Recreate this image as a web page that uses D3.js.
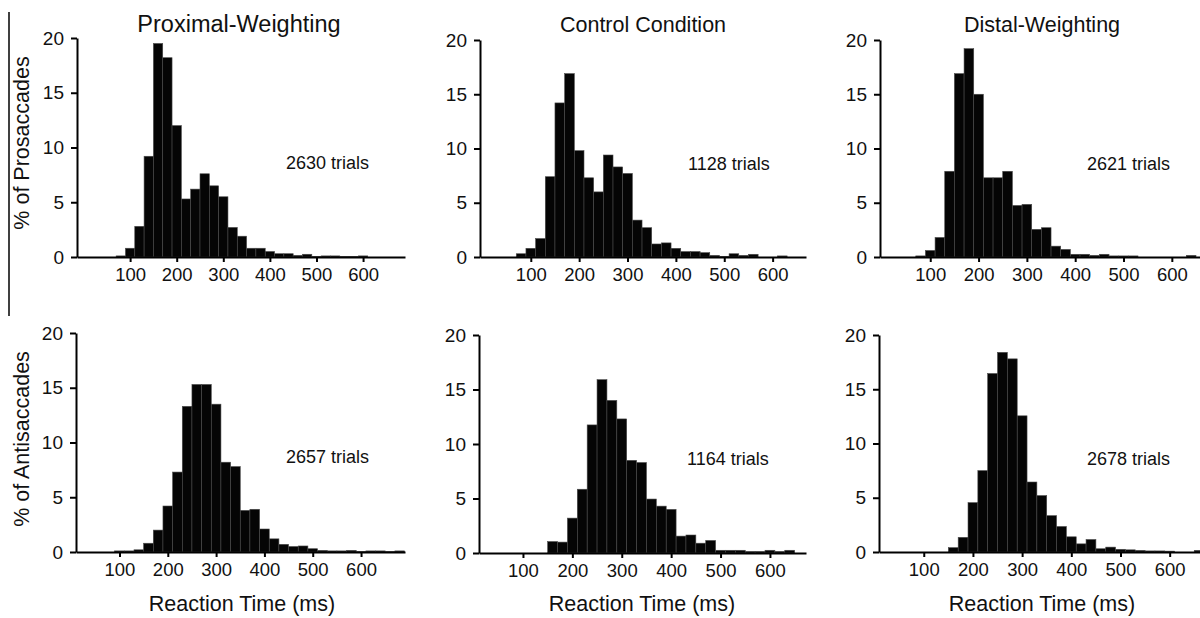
<!DOCTYPE html>
<html>
<head>
<meta charset="utf-8">
<script src="https://cdn.jsdelivr.net/npm/d3@7"></script>
<style>
	body { margin: 0; background: #fff; }
	text { font-family: "Liberation Sans", Arial, sans-serif; fill: #111; }
</style>
</head>
<body>
<svg id="chart"></svg>
<script>
// bin centres (ms), 20 ms wide bins
const binCenters = [60, 80, 100, 120, 140, 160, 180, 200, 220, 240, 260, 280, 300, 320, 340, 360,
	380, 400, 420, 440, 460, 480, 500, 520, 540, 560, 580, 600, 620, 640, 660, 680];

// % of saccades per bin
const proximalPro = [0, 0.1, 0.8, 2.8, 9.2, 19.5, 18.2, 12.0, 5.3, 6.2, 7.6, 6.5, 5.5, 2.7, 1.9, 0.8,
	0.8, 0.5, 0.3, 0.3, 0.15, 0.25, 0.05, 0.1, 0.1, 0.05, 0.05, 0.1, 0, 0, 0, 0];
const controlPro = [0, 0.3, 0.8, 1.7, 7.4, 14.2, 16.9, 9.8, 7.3, 6.0, 9.4, 8.3, 7.7, 3.4, 2.7, 1.2,
	1.3, 0.8, 0.5, 0.5, 0.4, 0.15, 0.05, 0.3, 0.15, 0.25, 0, 0, 0.1, 0, 0, 0];
const distalPro = [0, 0.1, 0.6, 1.8, 7.9, 16.9, 19.2, 15.0, 7.3, 7.3, 7.9, 4.75, 4.85, 2.55, 2.7, 1.0,
	0.7, 0.25, 0.25, 0.15, 0.25, 0.1, 0.1, 0.1, 0, 0, 0, 0, 0, 0.15, 0, 0];
const proximalAnti = [0, 0, 0.1, 0.1, 0.2, 0.8, 2.0, 4.2, 7.3, 13.3, 15.3, 15.3, 13.5, 8.2, 7.8, 3.8,
	3.9, 2.1, 1.2, 0.7, 0.5, 0.55, 0.3, 0.15, 0.1, 0.1, 0.15, 0.03, 0.1, 0.1, 0.03, 0.1];
const controlAnti = [0, 0, 0, 0, 0, 1.05, 1.0, 3.2, 5.85, 11.75, 15.9, 14.0, 12.3, 8.5, 8.3, 4.95,
	4.3, 4.0, 1.55, 1.65, 0.9, 1.15, 0.25, 0.25, 0.25, 0.15, 0.15, 0.25, 0.15, 0.25, 0, 0];
const distalAnti = [0, 0, 0, 0, 0, 0.4, 1.35, 4.55, 7.5, 16.45, 18.4, 17.8, 12.55, 6.45, 5.2, 3.35,
	2.35, 1.4, 0.75, 1.15, 0.3, 0.45, 0.25, 0.2, 0.15, 0.1, 0.1, 0.08, 0, 0, 0.15, 0];

const titles = ["Proximal-Weighting", "Control Condition", "Distal-Weighting"];
const trialCounts = ["2630 trials", "1128 trials", "2621 trials", "2657 trials", "1164 trials", "2678 trials"];
const rowLabels = ["% of Prosaccades", "% of Antisaccades"];
const xTicks = [100, 200, 300, 400, 500, 600];
const yTicks = [0, 5, 10, 15, 20];

const W = 1200, H = 618;
const svg = d3.select("#chart").attr("width", W).attr("height", H);

// panel placement (pixels) and the x window each panel shows
const panels = [
	{ values: proximalPro, dom: [-14, 690], left: 77, right: 405, top: 38, bottom: 257 },
	{ values: controlPro, dom: [-5, 669], left: 480, right: 806, top: 40, bottom: 257 },
	{ values: distalPro, dom: [-4, 679], left: 880, right: 1210, top: 40, bottom: 257 },
	{ values: proximalAnti, dom: [10, 691], left: 76, right: 405, top: 333, bottom: 552 },
	{ values: controlAnti, dom: [11, 673], left: 479, right: 806, top: 335, bottom: 553 },
	{ values: distalAnti, dom: [9, 682], left: 879, right: 1210, top: 335, bottom: 552 }
];
const trialPos = [[286, 169], [688, 170], [1087, 170], [286, 463], [687, 465], [1087, 465]];

panels.forEach((p, i) => {
	const g = svg.append("g");
	const x = d3.scaleLinear().domain(p.dom).range([p.left, p.right]);
	const y = d3.scaleLinear().domain([0, 20]).range([p.bottom, p.top]);

	const data = binCenters.map((c, k) => ({ c: c, v: p.values[k] })).filter(d => d.v > 0);

	// bars
	g.selectAll("rect.bar")
		.data(data)
		.enter()
		.append("rect")
		.attr("class", "bar")
		.attr("x", d => x(d.c - 10))
		.attr("y", d => y(d.v))
		.attr("width", d => x(d.c + 10) - x(d.c - 10))
		.attr("height", d => y(0) - y(d.v))
		.attr("fill", "#050505")
		.attr("stroke", "#4a4a4a")
		.attr("stroke-width", 0.6);

	// x axis
	const xa = g.append("g")
		.attr("transform", `translate(0,${p.bottom})`)
		.call(d3.axisBottom(x).tickValues(xTicks).tickSize(5).tickSizeOuter(0).tickPadding(6));
	xa.selectAll("text").style("font-size", "18.5px");

	// y axis
	const ya = g.append("g")
		.attr("transform", `translate(${p.left},0)`)
		.call(d3.axisLeft(y).tickValues(yTicks).tickSize(6).tickSizeOuter(0).tickPadding(7));
	ya.selectAll("text").style("font-size", "19px");

	[xa, ya].forEach(a => {
		a.select(".domain").attr("stroke", "#000").attr("stroke-width", 2);
		a.selectAll(".tick line").attr("stroke", "#000").attr("stroke-width", 2);
		a.selectAll("text").style("font-family", "'Liberation Sans', Arial, sans-serif").attr("fill", "#111");
	});

	g.append("text")
		.attr("x", trialPos[i][0])
		.attr("y", trialPos[i][1])
		.style("font-size", "18px")
		.text(trialCounts[i]);

	if (i < 3) {
		g.append("text")
			.attr("x", [239, 643, 1042][i])
			.attr("y", 32)
			.attr("text-anchor", "middle")
			.style("font-size", i === 0 ? "23.5px" : "21.5px")
			.text(titles[i]);
	} else {
		g.append("text")
			.attr("x", [242, 642, 1042][i - 3])
			.attr("y", 611)
			.attr("text-anchor", "middle")
			.style("font-size", "21.5px")
			.text("Reaction Time (ms)");
	}
});

// row labels
[[29, 143], [29, 439]].forEach((pos, r) => {
	svg.append("text")
		.attr("transform", `translate(${pos[0]},${pos[1]}) rotate(-90)`)
		.attr("text-anchor", "middle")
		.style("font-size", "21.5px")
		.text(rowLabels[r]);
});

// stray vertical rule at the left edge of the figure
svg.append("line")
	.attr("x1", 9).attr("x2", 9)
	.attr("y1", 12).attr("y2", 316)
	.attr("stroke", "#000")
	.attr("stroke-width", 1.5);
</script>
</body>
</html>
